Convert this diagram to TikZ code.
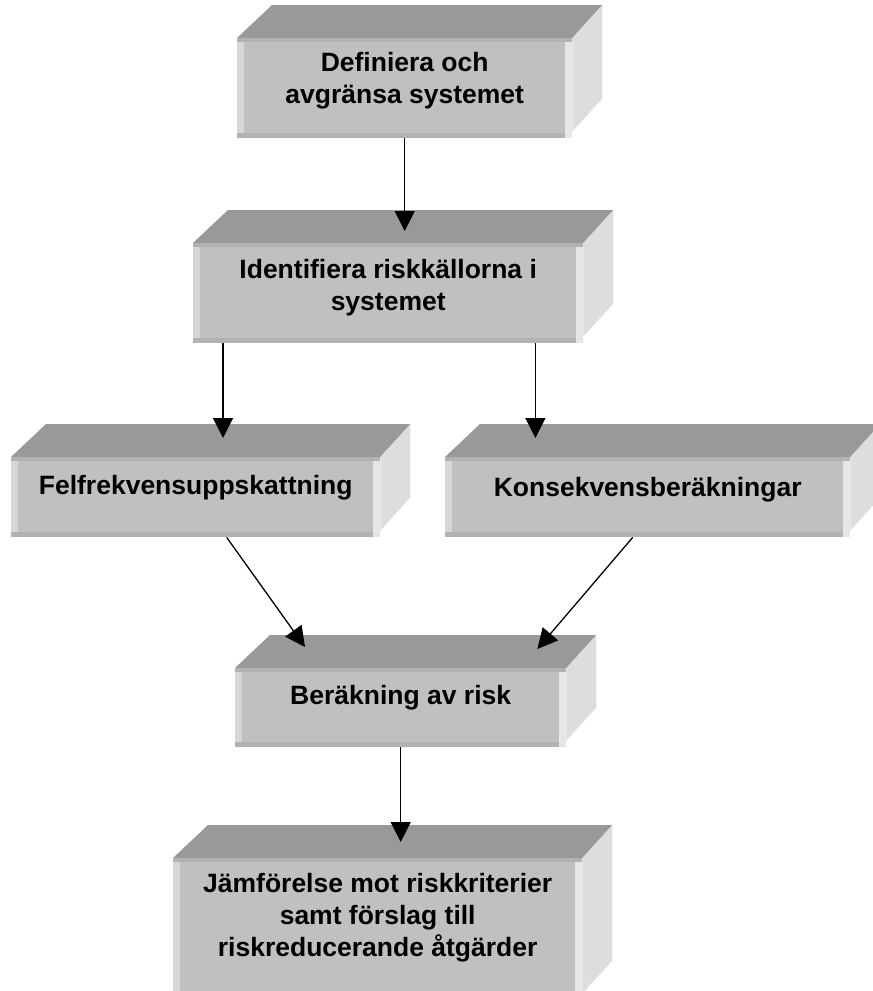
\documentclass[tikz,border=0pt]{standalone}
\usepackage{fontspec}
\setmainfont{Liberation Sans}
\usetikzlibrary{arrows.meta,backgrounds}

\definecolor{topgray}{HTML}{999999}
\definecolor{bandgray}{HTML}{B2B2B2}
\definecolor{frontgray}{HTML}{C0C0C0}
\definecolor{leftgray}{HTML}{D6D6D6}
\definecolor{rightgray}{HTML}{E6E6E6}
\definecolor{sidegray}{HTML}{DDDDDD}

\tikzset{
  box/.style 2 args={minimum width=#1, minimum height=#2, inner sep=0pt,
    anchor=north west, align=center, text depth=20pt,
    font=\fontsize{26.5}{32}\selectfont\bfseries},
  arr/.style={-{Triangle[length=20pt,width=20pt]}, line width=1.3pt}
}

\begin{document}
\begin{tikzpicture}[x=1pt,y=-1pt]
    \useasboundingbox (0,0) rectangle (873,991);

    % Boxes (front faces)
    \node[box={335pt}{100pt}] (def) at (237,38) {Definiera och\\avgränsa systemet};
    \node[box={390pt}{100pt}, text depth=17pt] (ide) at (193,243) {Identifiera riskkällorna i\\systemet};
    \node[box={369pt}{80pt}, text depth=24pt] (fel) at (11,457) {Felfrekvensuppskattning};
    \node[box={405pt}{80pt}] (kon) at (445,457) {Konsekvensberäkningar};
    \node[box={331pt}{79pt}, text depth=25pt] (ber) at (235,668) {Beräkning av risk};
    \node[box={409pt}{142pt}, text depth=28pt] (jam) at (173,858) {Jämförelse mot riskkriterier\\samt förslag till\\riskreducerande åtgärder};

    % 3D faces
    \begin{scope}[on background layer]
      \foreach \b in {def,ide,fel,kon,ber,jam} {
        \fill[topgray] (\b.north west) -- ++(35,-33) -- ([shift={(30,-33)}]\b.north east) -- (\b.north east) -- cycle;
        \fill[sidegray] (\b.north east) -- ++(30,-33) -- ([shift={(30,-40)}]\b.south east) -- ([shift={(0,-7)}]\b.south east) -- cycle;
        \fill[bandgray] (\b.north west) rectangle (\b.south east);
        \fill[leftgray] ([shift={(0,4)}]\b.north west) rectangle ([shift={(7,-5)}]\b.south west);
        \fill[rightgray] ([shift={(-7,4)}]\b.north east) rectangle (\b.south east);
        \fill[frontgray] ([shift={(7,4)}]\b.north west) rectangle ([shift={(-7,-5)}]\b.south east);
      }
    \end{scope}

    % Arrows
    \draw[arr] (def.south) -- ([yshift=12pt]def.south |- ide.north);
    \draw[arr] ([xshift=30pt]ide.south west) -- ([xshift=30pt,yshift=19pt]ide.south west |- fel.north);
    \draw[arr] ([xshift=-48pt]ide.south east) -- ([xshift=-48pt,yshift=19pt]ide.south east |- kon.north);
    \draw[arr] ([xshift=31pt]fel.south) -- ([shift={(70,-21)}]ber.north west);
    \draw[arr] ([xshift=-15pt]kon.south) -- ([shift={(-29,-19)}]ber.north east);
    \draw[arr] (ber.south) -- ([yshift=16pt]ber.south |- jam.north);
\end{tikzpicture}
\end{document}
